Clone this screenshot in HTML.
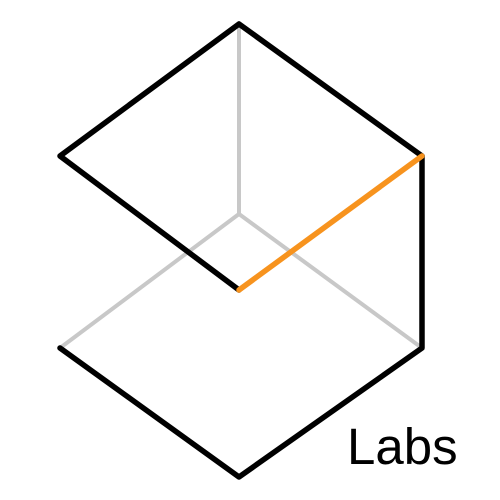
<!DOCTYPE html>
<html>
<head>
<meta charset="utf-8">
<style>
html,body{margin:0;padding:0;background:#fff;width:500px;height:500px;overflow:hidden;}
svg{display:block;}
</style>
</head>
<body>
<svg width="500" height="500" viewBox="0 0 500 500">
  <g stroke="#c8c8c8" stroke-width="4" stroke-linecap="round" fill="none">
    <line x1="239" y1="24" x2="239" y2="214"/>
    <line x1="239" y1="214" x2="60" y2="348"/>
    <line x1="239" y1="214" x2="422" y2="348"/>
  </g>
  <g stroke="#000" stroke-width="5.5" stroke-linecap="round" stroke-linejoin="round" fill="none">
    <polyline points="422,156 239,24 60,156 239,290"/>
    <polyline points="422,156 422,348 239,477 60,348"/>
  </g>
  <line x1="239" y1="290" x2="422" y2="156" stroke="#f7931e" stroke-width="5.5" stroke-linecap="round"/>
  <text x="347" y="464" font-family="'Liberation Sans', sans-serif" font-size="51" fill="#000">Labs</text>
</svg>
</body>
</html>
